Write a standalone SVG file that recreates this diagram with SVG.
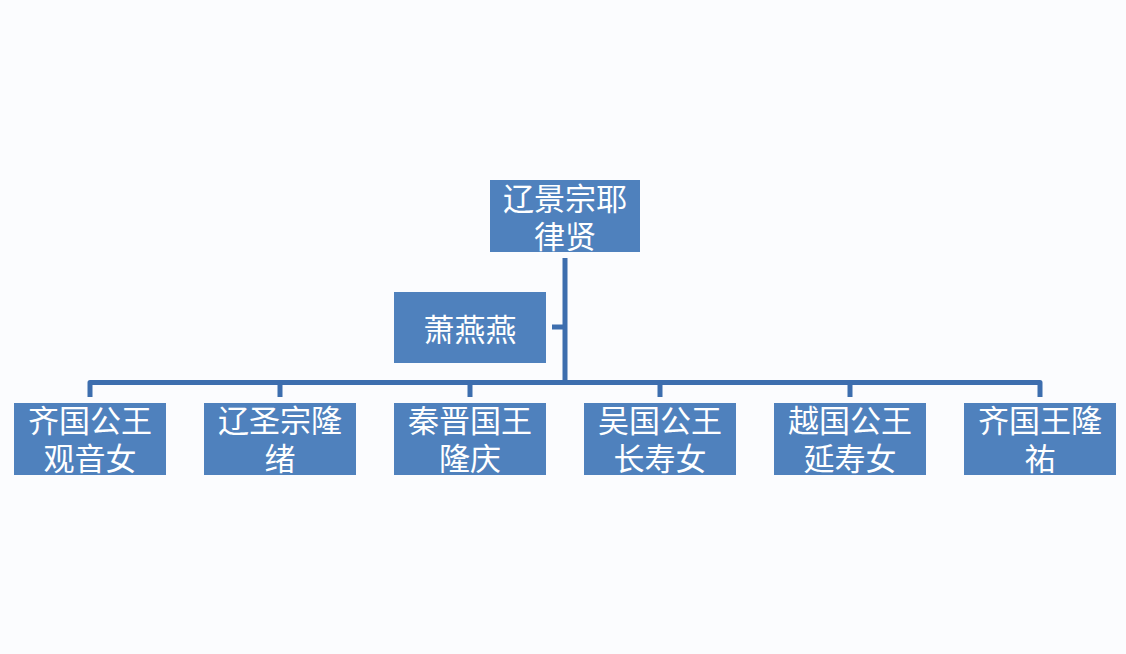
<svg xmlns="http://www.w3.org/2000/svg" width="1126" height="654" viewBox="0 0 1126 654">
<style>
.box{fill:#4f81bd}
.t{fill:#ffffff;font-family:"Liberation Sans","Noto Sans CJK SC",sans-serif;font-size:31px;text-anchor:middle;dominant-baseline:central}
.c{fill:none;stroke:#3d6eae;stroke-width:5;stroke-linejoin:round}
</style>
<rect width="1126" height="654" fill="#fbfcfe"/>
<g id="connectors">
<path class="c" d="M565,258 V382.5"/>
<path class="c" d="M552,327 H565"/>
<path class="c" d="M90,397 V382.5 H1040 V397"/>
<path class="c" d="M280,382.5 V397 M470,382.5 V397 M660,382.5 V397 M850,382.5 V397"/>
</g>
<g id="n-root"><rect class="box" x="490" y="180" width="150" height="72"/><text class="t" x="565" y="199">辽景宗耶</text><text class="t" x="565" y="237">律贤</text></g>
<g id="n-xiao"><rect class="box" x="394" y="292" width="152" height="71"/><text class="t" x="470" y="330">萧燕燕</text></g>
<g id="n-c1"><rect class="box" x="14" y="403" width="152" height="72"/><text class="t" x="90" y="421">齐国公王</text><text class="t" x="90" y="459">观音女</text></g>
<g id="n-c2"><rect class="box" x="204" y="403" width="152" height="72"/><text class="t" x="280" y="421">辽圣宗隆</text><text class="t" x="280" y="459">绪</text></g>
<g id="n-c3"><rect class="box" x="394" y="403" width="152" height="72"/><text class="t" x="470" y="421">秦晋国王</text><text class="t" x="470" y="459">隆庆</text></g>
<g id="n-c4"><rect class="box" x="584" y="403" width="152" height="72"/><text class="t" x="660" y="421">吴国公王</text><text class="t" x="660" y="459">长寿女</text></g>
<g id="n-c5"><rect class="box" x="774" y="403" width="152" height="72"/><text class="t" x="850" y="421">越国公王</text><text class="t" x="850" y="459">延寿女</text></g>
<g id="n-c6"><rect class="box" x="964" y="403" width="152" height="72"/><text class="t" x="1040" y="421">齐国王隆</text><text class="t" x="1040" y="459">祐</text></g>
</svg>
